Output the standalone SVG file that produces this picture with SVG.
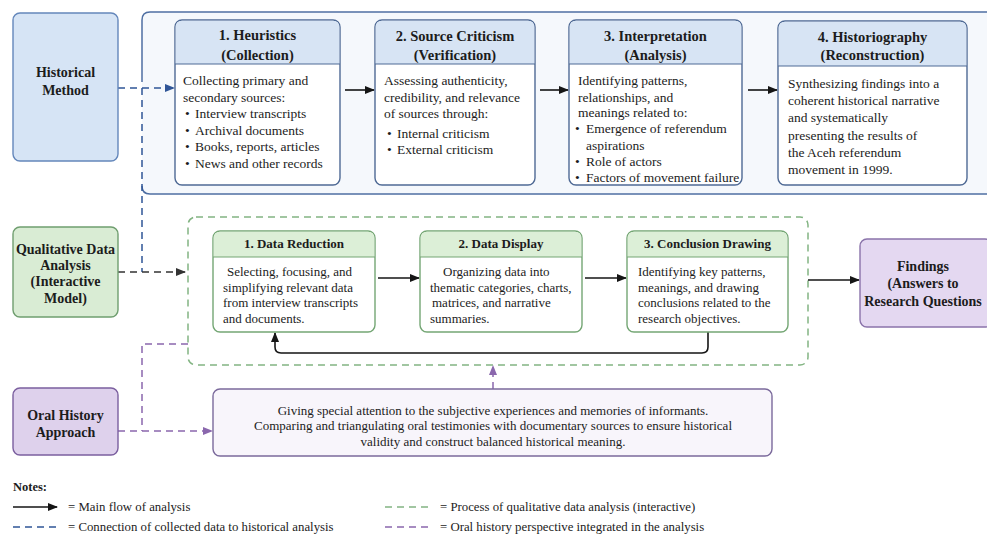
<svg xmlns="http://www.w3.org/2000/svg" width="987" height="536" viewBox="0 0 987 536" font-family="'Liberation Serif', 'DejaVu Serif', serif">
<style>
text{font-family:'Liberation Serif','DejaVu Serif',serif;fill:#1c1c1c}
.b{font-weight:bold}
.t{font-size:14.5px;font-weight:bold;text-anchor:middle}
.n{font-size:14px;font-weight:bold;text-anchor:middle}
.p{font-size:13.5px}
.g{font-size:13px}
.gh{font-size:13px;font-weight:bold;text-anchor:middle}
.lg{font-size:12.8px}
.bbox{fill:#ffffff;stroke:#4f6a95;stroke-width:1.4}
.bhead{fill:#d7e4f4;stroke:none}
.bline{stroke:#4f6a95;stroke-width:1.2}
.gbox{fill:#ffffff;stroke:#74a674;stroke-width:1.4}
.ghead{fill:#dcefd7;stroke:none}
.gline{stroke:#74a674;stroke-width:1.2}
.blk{stroke:#151515;stroke-width:1.6;fill:none}
.bd{stroke:#2f5597;stroke-width:1.5;fill:none;stroke-dasharray:7 5}
.dd{stroke:#333333;stroke-width:1.6;fill:none;stroke-dasharray:7 5}
.pd{stroke:#8a67ad;stroke-width:1.5;fill:none;stroke-dasharray:7 5}
.gd{stroke:#82b482;stroke-width:1.5;fill:none;stroke-dasharray:7 5}
</style>
<defs>
<marker id="ak" markerUnits="userSpaceOnUse" markerWidth="10" markerHeight="8" refX="9" refY="4" orient="auto"><path d="M0,0 L10,4 L0,8 Z" fill="#151515"/></marker>
<marker id="ab" markerUnits="userSpaceOnUse" markerWidth="10" markerHeight="8" refX="9" refY="4" orient="auto"><path d="M0,0 L10,4 L0,8 Z" fill="#2f5597"/></marker>
<marker id="ad" markerUnits="userSpaceOnUse" markerWidth="10" markerHeight="8" refX="9" refY="4" orient="auto"><path d="M0,0 L10,4 L0,8 Z" fill="#333333"/></marker>
<marker id="ap" markerUnits="userSpaceOnUse" markerWidth="10" markerHeight="8" refX="9" refY="4" orient="auto"><path d="M0,0 L10,4 L0,8 Z" fill="#8a67ad"/></marker>
</defs>
<rect width="987" height="536" fill="#ffffff"/>

<!-- containers -->
<g id="historical-frame">
<rect x="142" y="12" width="860" height="182" rx="8" fill="#f5f8fc"/>
<path d="M142,82 V20 Q142,12 150,12 H1002 M1002,194 H150 Q142,194 142,186" fill="none" stroke="#4f6fa3" stroke-width="1.5"/>
</g>
<g id="qda-frame">
<rect x="188" y="217" width="620" height="148" rx="8" fill="#f6faf4" class="gd"/>
</g>

<!-- connectors -->
<g id="connectors">
<path class="bd" d="M118,88 H174" marker-end="url(#ab)"/>
<path class="bd" d="M142,88 V272"/>
<path class="dd" d="M118,272 H185" marker-end="url(#ad)"/>
<path class="pd" d="M188,344 H142 V431"/>
<path class="pd" d="M118,431 H212" marker-end="url(#ap)"/>
<path class="pd" d="M493,389 V366" marker-end="url(#ap)"/>
<path class="blk" d="M345,90 H374" marker-end="url(#ak)"/>
<path class="blk" d="M540,90 H568" marker-end="url(#ak)"/>
<path class="blk" d="M748,90 H777" marker-end="url(#ak)"/>
<path class="blk" d="M378,278 H419" marker-end="url(#ak)"/>
<path class="blk" d="M585,278 H626" marker-end="url(#ak)"/>
<path class="blk" d="M808,280 H859" marker-end="url(#ak)"/>
<path class="blk" d="M708,332 V347 Q708,353 702,353 H281 Q275,353 275,347 V333" marker-end="url(#ak)"/>
</g>

<!-- left nodes -->
<g id="historical-method">
<rect x="13" y="13" width="105" height="148" rx="7" fill="#d6e4f5" stroke="#6487bb" stroke-width="1.4"/>
<text class="n" x="65.5" y="77">Historical</text>
<text class="n" x="65.5" y="95">Method</text>
</g>
<g id="qualitative-data-analysis">
<rect x="13" y="227" width="105" height="90" rx="7" fill="#d9ecd4" stroke="#6f9e6f" stroke-width="1.4"/>
<text class="n" x="65.5" y="254">Qualitative Data</text>
<text class="n" x="65.5" y="270">Analysis</text>
<text class="n" x="65.5" y="286">(Interactive</text>
<text class="n" x="65.5" y="303">Model)</text>
</g>
<g id="oral-history-approach">
<rect x="13" y="388" width="105" height="67" rx="7" fill="#ded1ec" stroke="#7b5f9f" stroke-width="1.4"/>
<text class="n" x="65.5" y="420">Oral History</text>
<text class="n" x="65.5" y="437">Approach</text>
</g>

<!-- historical method steps -->
<g id="heuristics">
<rect class="bbox" x="175" y="20" width="165" height="165" rx="7"/>
<path class="bhead" d="M175.7,64 V27 Q175.7,20.7 182,20.7 H333 Q339.3,20.7 339.3,27 V64 Z"/>
<line class="bline" x1="175" y1="64" x2="340" y2="64"/>
<text class="t" x="257.5" y="40">1. Heuristics</text>
<text class="t" x="257.5" y="60">(Collection)</text>
<text class="p" x="183" y="85">Collecting primary and</text>
<text class="p" x="183" y="101.5">secondary sources:</text>
<text class="p" y="118"><tspan x="185">•</tspan><tspan x="195">Interview transcripts</tspan></text>
<text class="p" y="134.5"><tspan x="185">•</tspan><tspan x="195">Archival documents</tspan></text>
<text class="p" y="151"><tspan x="185">•</tspan><tspan x="195">Books, reports, articles</tspan></text>
<text class="p" y="167.5"><tspan x="185">•</tspan><tspan x="195">News and other records</tspan></text>
</g>
<g id="source-criticism">
<rect class="bbox" x="375" y="20" width="160" height="165" rx="7"/>
<path class="bhead" d="M375.7,64 V27 Q375.7,20.7 382,20.7 H528 Q534.3,20.7 534.3,27 V64 Z"/>
<line class="bline" x1="375" y1="64" x2="535" y2="64"/>
<text class="t" x="455" y="41">2. Source Criticism</text>
<text class="t" x="455" y="60">(Verification)</text>
<text class="p" x="384" y="85">Assessing authenticity,</text>
<text class="p" x="384" y="101.5">credibility, and relevance</text>
<text class="p" x="384" y="117.5">of sources through:</text>
<text class="p" y="138"><tspan x="387">•</tspan><tspan x="397">Internal criticism</tspan></text>
<text class="p" y="154"><tspan x="387">•</tspan><tspan x="397">External criticism</tspan></text>
</g>
<g id="interpretation">
<rect class="bbox" x="569" y="20" width="173" height="165" rx="7"/>
<path class="bhead" d="M569.7,64 V27 Q569.7,20.7 576,20.7 H735 Q741.3,20.7 741.3,27 V64 Z"/>
<line class="bline" x1="569" y1="64" x2="742" y2="64"/>
<text class="t" x="655.5" y="41">3. Interpretation</text>
<text class="t" x="655.5" y="60">(Analysis)</text>
<text class="p" x="578" y="85">Identifying patterns,</text>
<text class="p" x="578" y="101.5">relationships, and</text>
<text class="p" x="578" y="117">meanings related to:</text>
<text class="p" y="133"><tspan x="575">•</tspan><tspan x="586">Emergence of referendum</tspan></text>
<text class="p" x="586" y="149.5">aspirations</text>
<text class="p" y="165.5"><tspan x="575">•</tspan><tspan x="586">Role of actors</tspan></text>
<text class="p" y="181.5"><tspan x="575">•</tspan><tspan x="586">Factors of movement failure</tspan></text>
</g>
<g id="historiography">
<rect class="bbox" x="778" y="21" width="189" height="164" rx="7"/>
<path class="bhead" d="M778.7,66 V28 Q778.7,21.7 785,21.7 H960 Q966.3,21.7 966.3,28 V66 Z"/>
<line class="bline" x1="778" y1="66" x2="967" y2="66"/>
<text class="t" x="872.5" y="42">4. Historiography</text>
<text class="t" x="872.5" y="60">(Reconstruction)</text>
<text class="p" x="788" y="88">Synthesizing findings into a</text>
<text class="p" x="788" y="105">coherent historical narrative</text>
<text class="p" x="788" y="122">and systematically</text>
<text class="p" x="788" y="139.5">presenting the results of</text>
<text class="p" x="788" y="156.5">the Aceh referendum</text>
<text class="p" x="788" y="174">movement in 1999.</text>
</g>

<!-- qualitative steps -->
<g id="data-reduction">
<rect class="gbox" x="213" y="231" width="162" height="101" rx="7"/>
<path class="ghead" d="M213.7,257 V238 Q213.7,231.7 220,231.7 H368 Q374.3,231.7 374.3,238 V257 Z"/>
<line class="gline" x1="213" y1="257" x2="375" y2="257"/>
<text class="gh" x="294" y="247.5">1. Data Reduction</text>
<text class="g" x="227" y="275.5">Selecting, focusing, and</text>
<text class="g" x="223" y="291.5">simplifying relevant data</text>
<text class="g" x="223" y="306.5">from interview transcripts</text>
<text class="g" x="223" y="322.5">and documents.</text>
</g>
<g id="data-display">
<rect class="gbox" x="420" y="231" width="162" height="101" rx="7"/>
<path class="ghead" d="M420.7,257 V238 Q420.7,231.7 427,231.7 H575 Q581.3,231.7 581.3,238 V257 Z"/>
<line class="gline" x1="420" y1="257" x2="582" y2="257"/>
<text class="gh" x="501" y="247.5">2. Data Display</text>
<text class="g" x="443" y="275.5">Organizing data into</text>
<text class="g" x="430" y="291.5">thematic categories, charts,</text>
<text class="g" x="432" y="306.5">matrices, and narrative</text>
<text class="g" x="430" y="322.5">summaries.</text>
</g>
<g id="conclusion-drawing">
<rect class="gbox" x="627" y="231" width="161" height="101" rx="7"/>
<path class="ghead" d="M627.7,257 V238 Q627.7,231.7 634,231.7 H781 Q787.3,231.7 787.3,238 V257 Z"/>
<line class="gline" x1="627" y1="257" x2="788" y2="257"/>
<text class="gh" x="707.5" y="247.5">3. Conclusion Drawing</text>
<text class="g" x="638" y="275.5">Identifying key patterns,</text>
<text class="g" x="638" y="291.5">meanings, and drawing</text>
<text class="g" x="638" y="306.5">conclusions related to the</text>
<text class="g" x="638" y="322.5">research objectives.</text>
</g>

<g id="findings">
<rect x="860" y="239" width="132" height="88" rx="7" fill="#e4d8f1" stroke="#8a73aa" stroke-width="1.4"/>
<text class="n" x="923" y="271">Findings</text>
<text class="n" x="923" y="288">(Answers to</text>
<text class="n" x="923" y="306">Research Questions</text>
</g>

<g id="oral-description">
<rect x="213" y="389" width="559" height="67" rx="7" fill="#f8f5fb" stroke="#7b6a9c" stroke-width="1.4"/>
<text class="g" x="493" y="414.5" text-anchor="middle">Giving special attention to the subjective experiences and memories of informants.</text>
<text class="g" x="493" y="429.5" text-anchor="middle">Comparing and triangulating oral testimonies with documentary sources to ensure historical</text>
<text class="g" x="493" y="445.5" text-anchor="middle">validity and construct balanced historical meaning.</text>
</g>

<!-- legend -->
<g id="legend">
<text class="b" x="13" y="490.5" style="font-size:12.5px">Notes:</text>
<path class="blk" d="M13,507 H57" marker-end="url(#ak)"/>
<text class="lg" x="68" y="511">= Main flow of analysis</text>
<path class="bd" d="M13,527 H58"/>
<text class="lg" x="68" y="531">= Connection of collected data to historical analysis</text>
<path class="gd" d="M385,507 H429"/>
<text class="lg" x="440" y="511">= Process of qualitative data analysis (interactive)</text>
<path class="pd" d="M385,527 H429"/>
<text class="lg" x="440" y="531">= Oral history perspective integrated in the analysis</text>
</g>
</svg>
